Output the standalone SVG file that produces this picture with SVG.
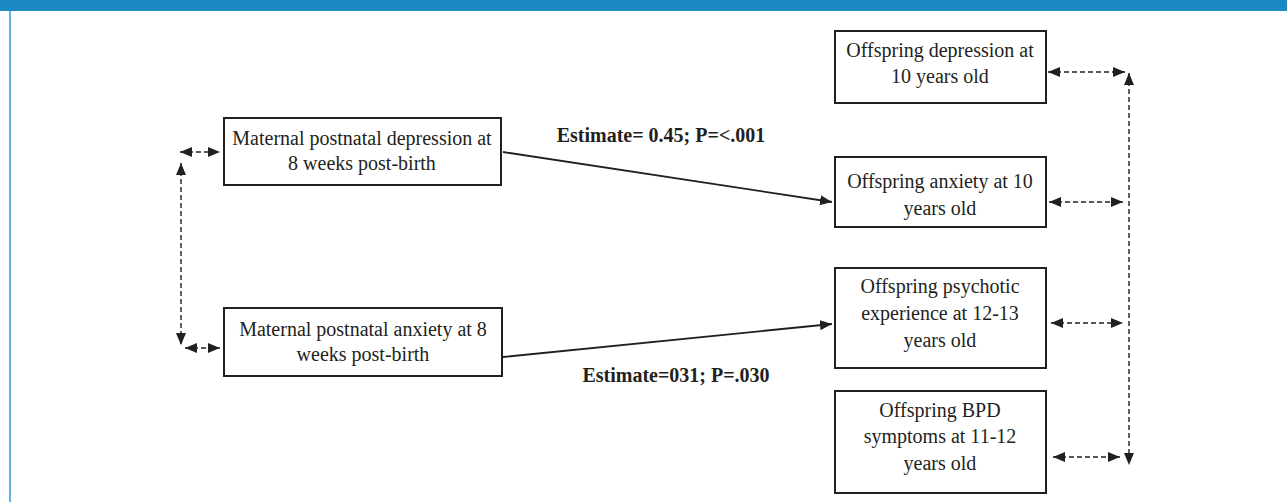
<svg xmlns="http://www.w3.org/2000/svg" width="1287" height="502" viewBox="0 0 1287 502">
<style>
.box{fill:#fff;stroke:#231f20;stroke-width:2}
.t{font-family:"Liberation Serif","Times New Roman",serif;font-size:20px;fill:#231f20;text-anchor:middle}
.lbl{font-family:"Liberation Serif","Times New Roman",serif;font-size:20px;font-weight:bold;fill:#231f20;text-anchor:middle}
.solid{stroke:#231f20;stroke-width:1.8;fill:none}
.dash{stroke:#231f20;stroke-width:1.4;fill:none;stroke-dasharray:5 3}
</style>
<defs>
<marker id="ah" viewBox="0 0 12 10" refX="12" refY="5" markerWidth="12" markerHeight="10" markerUnits="userSpaceOnUse" orient="auto-start-reverse">
<path d="M0,0 L12,5 L0,10 Z" fill="#231f20"/>
</marker>
</defs>
<rect x="0" y="0" width="1287" height="502" fill="#fff"/>
<rect x="0" y="0" width="1287" height="11" fill="#1b8ac2"/>
<rect x="9" y="11" width="2" height="491" fill="#63b4dc"/>

<g id="connectors">
<line class="solid" x1="503" y1="152" x2="832" y2="202" marker-end="url(#ah)"/>
<line class="solid" x1="503" y1="357" x2="832" y2="324" marker-end="url(#ah)"/>
<line class="dash" x1="181" y1="163" x2="181" y2="345" marker-start="url(#ah)" marker-end="url(#ah)"/>
<line class="dash" x1="180" y1="152" x2="220" y2="152" marker-start="url(#ah)" marker-end="url(#ah)"/>
<line class="dash" x1="185" y1="348" x2="220" y2="348" marker-start="url(#ah)" marker-end="url(#ah)"/>
<line class="dash" x1="1129" y1="73" x2="1129" y2="465" marker-start="url(#ah)" marker-end="url(#ah)"/>
<line class="dash" x1="1048" y1="72" x2="1125" y2="72" marker-start="url(#ah)" marker-end="url(#ah)"/>
<line class="dash" x1="1049" y1="202" x2="1123" y2="202" marker-start="url(#ah)" marker-end="url(#ah)"/>
<line class="dash" x1="1051" y1="323" x2="1123" y2="323" marker-start="url(#ah)" marker-end="url(#ah)"/>
<line class="dash" x1="1053" y1="457" x2="1120" y2="457" marker-start="url(#ah)" marker-end="url(#ah)"/>
<text class="lbl" x="661" y="142">Estimate= 0.45; P=&lt;.001</text>
<text class="lbl" x="676" y="382">Estimate=031; P=.030</text>
</g>

<g id="mat-dep">
<rect class="box" x="224" y="118" width="277" height="67"/>
<text class="t" x="362" y="145">Maternal postnatal depression at</text>
<text class="t" x="362" y="170">8 weeks post-birth</text>
</g>
<g id="mat-anx">
<rect class="box" x="224" y="308" width="278" height="68"/>
<text class="t" x="363" y="336">Maternal postnatal anxiety at 8</text>
<text class="t" x="363" y="361">weeks post-birth</text>
</g>
<g id="off-dep">
<rect class="box" x="835" y="31" width="211" height="72"/>
<text class="t" x="940" y="57">Offspring depression at</text>
<text class="t" x="940" y="83">10 years old</text>
</g>
<g id="off-anx">
<rect class="box" x="835" y="157" width="211" height="70"/>
<text class="t" x="940" y="188">Offspring anxiety at 10</text>
<text class="t" x="940" y="215">years old</text>
</g>
<g id="off-psy">
<rect class="box" x="835" y="268" width="211" height="100"/>
<text class="t" x="940" y="293">Offspring psychotic</text>
<text class="t" x="940" y="320">experience at 12-13</text>
<text class="t" x="940" y="347">years old</text>
</g>
<g id="off-bpd">
<rect class="box" x="835" y="391" width="211" height="102"/>
<text class="t" x="940" y="417">Offspring BPD</text>
<text class="t" x="940" y="443">symptoms at 11-12</text>
<text class="t" x="940" y="470">years old</text>
</g>
</svg>
